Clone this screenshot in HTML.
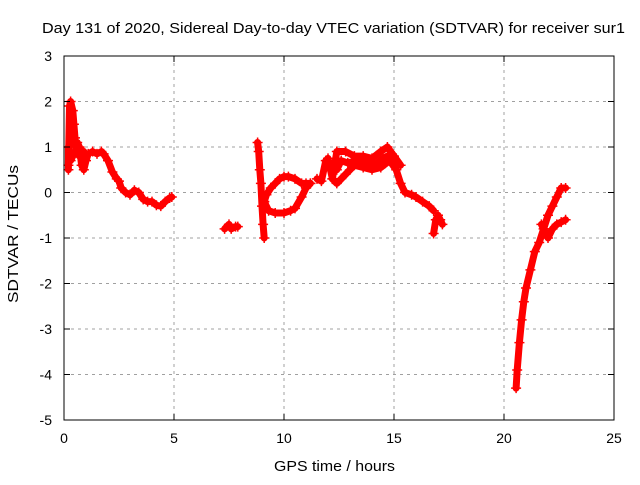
<!DOCTYPE html>
<html><head><meta charset="utf-8"><style>
body{margin:0;background:#fff}
svg text{font-family:"Liberation Sans",sans-serif;font-size:14px;fill:#000}
</style></head><body>
<svg id="c" width="640" height="480">
<rect width="640" height="480" fill="#fff"/>
<g id="grid"></g><g id="data"></g>
<rect x="64" y="56" width="550" height="364" fill="none" stroke="#000" stroke-width="1"/>
<g id="ticks"></g>
<text x="42" y="33" textLength="583" lengthAdjust="spacingAndGlyphs" style="font-size:15px">Day 131 of 2020, Sidereal Day-to-day VTEC variation (SDTVAR) for receiver sur1</text>
<text x="274" y="471" textLength="121" lengthAdjust="spacingAndGlyphs" style="font-size:15px">GPS time / hours</text>
<text transform="translate(18,303) rotate(-90)" textLength="138" lengthAdjust="spacingAndGlyphs" style="font-size:15px">SDTVAR / TECUs</text>
</svg>
<script>
const xTicks=[0,5,10,15,20,25];
const yTicks=[3,2,1,0,-1,-2,-3,-4,-5];
const seg1T=[0.2,0.25,0.3,0.4,0.45,0.5,0.55,0.6,0.7,0.8,0.9,1.0,1.1,1.3,1.5,1.7,1.8,2.0,2.2,2.4,2.5,2.6,2.8,3.0,3.2,3.4,3.6,3.8,4.0,4.2,4.4,4.6,4.8,4.9];
const seg1V=[0.6,1.9,2.0,1.8,1.5,1.2,0.9,1.1,1.0,0.6,0.5,0.7,0.85,0.9,0.85,0.9,0.85,0.7,0.45,0.3,0.25,0.1,0.0,-0.05,0.05,0.0,-0.15,-0.2,-0.2,-0.28,-0.3,-0.2,-0.12,-0.1];
const seg1bT=[0.2,0.2,0.3,0.5,0.7,0.9];
const seg1bV=[0.5,1.0,0.7,0.9,0.8,0.9];
const seg2T=[7.3,7.5,7.6,7.8,7.9];
const seg2V=[-0.8,-0.7,-0.8,-0.75,-0.75];
const seg3aT=[8.8,8.85,8.9,8.95,9.0,9.05,9.1];
const seg3aV=[1.1,0.9,0.5,0.2,-0.3,-0.7,-1.0];
const seg3bT=[9.1,9.2,9.4,9.6,9.8,10.0,10.2,10.5,10.8,11.0,11.2];
const seg3bV=[-0.2,-0.05,0.1,0.2,0.3,0.35,0.35,0.3,0.2,0.2,0.2];
const seg3cT=[9.1,9.3,9.6,10.0,10.3,10.5,10.8,11.0,11.2];
const seg3cV=[-0.2,-0.4,-0.45,-0.45,-0.4,-0.35,-0.1,0.1,0.2];
const seg4aT=[11.5,11.7,11.9,12.0,12.2,12.4,12.8,13.2,13.6,14.0,14.4,14.7,15.0,15.3];
const seg4aV=[0.3,0.25,0.7,0.75,0.3,0.9,0.9,0.8,0.8,0.75,0.9,1.0,0.8,0.6];
const seg4bT=[12.2,12.4,12.8,13.2,13.6,14.0,14.4,14.8,15.1,15.3,15.5,15.8,16.0,16.3,16.6,16.8];
const seg4bV=[0.3,0.2,0.4,0.6,0.55,0.5,0.55,0.7,0.5,0.2,0.0,-0.05,-0.1,-0.2,-0.3,-0.4];
const seg4dT=[12.4,12.6,12.9,13.3,13.7,14.1,14.5,14.9,15.2];
const seg4dV=[0.5,0.7,0.65,0.7,0.65,0.6,0.75,0.85,0.6];
const seg4cT=[16.8,16.9,17.0,17.1,17.2];
const seg4cV=[-0.9,-0.6,-0.5,-0.6,-0.7];
const seg5aT=[20.55,20.6,20.7,20.8,20.9,21.0,21.2,21.4,21.6,21.8,22.0,22.2,22.4,22.6,22.8];
const seg5aV=[-4.3,-3.9,-3.3,-2.8,-2.4,-2.1,-1.7,-1.3,-1.1,-0.8,-0.5,-0.3,-0.1,0.1,0.1];
const seg5bT=[21.7,21.9,22.0,22.2,22.4,22.6,22.8];
const seg5bV=[-0.7,-0.9,-1.0,-0.8,-0.7,-0.65,-0.6];
const segments=[[seg1T,seg1V],[seg1bT,seg1bV],[seg2T,seg2V],[seg3aT,seg3aV],[seg3bT,seg3bV],[seg3cT,seg3cV],[seg4aT,seg4aV],[seg4bT,seg4bV],[seg4dT,seg4dV],[seg4cT,seg4cV],[seg5aT,seg5aV],[seg5bT,seg5bV]];
const NS="http://www.w3.org/2000/svg";
const X=t=>64+t*22, Y=v=>192.5-v*45.5;
const grid=document.getElementById('grid'),ticks=document.getElementById('ticks'),dg=document.getElementById('data');
function mk(tag,attrs,parent){const e=document.createElementNS(NS,tag);for(const k in attrs)e.setAttribute(k,attrs[k]);parent.appendChild(e);return e;}
xTicks.forEach(t=>{
 if(t>0&&t<25){const g=mk('line',{x1:X(t),x2:X(t),y1:56,y2:420,stroke:'#a0a0a0','stroke-dasharray':'3,4'},grid);
 
 }
 mk('line',{x1:X(t),x2:X(t),y1:420,y2:414,stroke:'#000'},ticks);
 mk('line',{x1:X(t),x2:X(t),y1:56,y2:62,stroke:'#000'},ticks);
 const l=mk('text',{x:X(t),y:443,'text-anchor':'middle'},ticks);l.textContent=t;
 
 
});
yTicks.forEach(v=>{
 if(v<3&&v>-5){const g=mk('line',{x1:64,x2:614,y1:Y(v),y2:Y(v),stroke:'#a0a0a0','stroke-dasharray':'3,4'},grid);
 
 }
 mk('line',{x1:64,x2:70,y1:Y(v),y2:Y(v),stroke:'#000'},ticks);
 mk('line',{x1:608,x2:614,y1:Y(v),y2:Y(v),stroke:'#000'},ticks);
 const l=mk('text',{x:52,y:Y(v)+5,'text-anchor':'end'},ticks);l.textContent=v;
 
 
});
segments.forEach(([T,V])=>{
 const p=mk('polyline',{points:T.map((t,i)=>X(t)+','+Y(V[i])).join(' '),fill:'none',stroke:'#f00','stroke-width':7,'stroke-linejoin':'round','stroke-linecap':'round'},dg);
 
 
 T.forEach((t,i)=>{
  const m=mk('path',{d:`M${X(t)-5},${Y(V[i])}h10M${X(t)},${Y(V[i])-5}v10`,stroke:'#f00','stroke-width':1.5},dg);
  
  
 });
});
</script>
</body></html>
